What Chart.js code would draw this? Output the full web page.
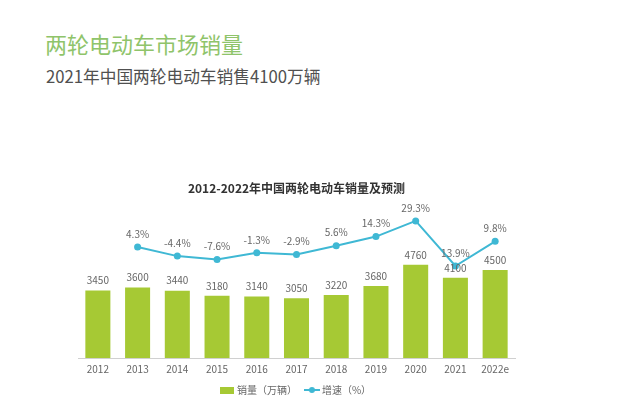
<!DOCTYPE html>
<html>
<head>
<meta charset="utf-8">
<script src="https://cdn.jsdelivr.net/npm/chart.js@4/dist/chart.umd.min.js"></script>
<style>
  body { margin: 0; background: #fff; }
  #wrap { position: relative; width: 640px; height: 412px; font-family: "Noto Sans CJK SC", "Noto Sans", sans-serif; }
  #title { position: absolute; left: 45px; top: 28px; font-size: 22px; color: #8fc46a; line-height: 30px; white-space: nowrap; }
  #subtitle { position: absolute; left: 46px; top: 64px; font-size: 16.7px; color: #505050; line-height: 24px; white-space: nowrap; }
  canvas { position: absolute; left: 0; top: 0; }
</style>
</head>
<body>
<div id="wrap">
  <div id="title">两轮电动车市场销量</div>
  <div id="subtitle">2021年中国两轮电动车销售4100万辆</div>
  <canvas id="chart1" width="640" height="412"></canvas>
</div>
<script>
const years = ['2012', '2013', '2014', '2015', '2016', '2017', '2018', '2019', '2020', '2021', '2022e'];
const sales = [3450, 3600, 3440, 3180, 3140, 3050, 3220, 3680, 4760, 4100, 4500];
const growth = [null, 4.3, -4.4, -7.6, -1.3, -2.9, 5.6, 14.3, 29.3, -13.9, 9.8];
const growthLabels = ['', '4.3%', '-4.4%', '-7.6%', '-1.3%', '-2.9%', '5.6%', '14.3%', '29.3%', '13.9%', '9.8%'];

const barColor = '#a6c934';
const lineColor = '#3fb8d4';
const fontFamily = '"Noto Sans CJK SC", "Noto Sans", sans-serif';

// petites icônes de légende
function swatchBar() {
    const c = document.createElement('canvas');
    c.width = 14; c.height = 7;
    const g = c.getContext('2d');
    g.fillStyle = barColor;
    g.fillRect(0, 0, 14, 7);
    return c;
}
function swatchLine() {
    const c = document.createElement('canvas');
    c.width = 16; c.height = 8;
    const g = c.getContext('2d');
    g.strokeStyle = lineColor;
    g.lineWidth = 2;
    g.beginPath(); g.moveTo(0, 4); g.lineTo(16, 4); g.stroke();
    g.fillStyle = lineColor;
    g.beginPath(); g.arc(8, 4, 3, 0, Math.PI * 2); g.fill();
    return c;
}

// étiquettes de valeurs
const valueLabels = {
    id: 'valueLabels',
    afterDatasetsDraw(chart) {
        const ctx = chart.ctx;
        ctx.save();
        ctx.font = '10px ' + fontFamily;
        ctx.fillStyle = '#666';
        ctx.textAlign = 'center';
        ctx.textBaseline = 'middle';
        chart.getDatasetMeta(0).data.forEach((el, i) => {
            ctx.fillText(String(sales[i]), el.x, el.y - 10);
        });
        chart.getDatasetMeta(1).data.forEach((el, i) => {
            if (growth[i] === null) return;
            ctx.fillText(growthLabels[i], el.x, el.y - 13);
        });
        ctx.restore();
    }
};

const ctx1 = document.getElementById('chart1').getContext('2d');
new Chart(ctx1, {
    type: 'bar',
    data: {
        labels: years,
        datasets: [
            {
                type: 'bar',
                label: '销量（万辆）',
                data: sales,
                backgroundColor: barColor,
                categoryPercentage: 0.63,
                barPercentage: 1,
                yAxisID: 'y',
                order: 2
            },
            {
                type: 'line',
                label: '增速（%）',
                data: growth,
                borderColor: lineColor,
                backgroundColor: lineColor,
                borderWidth: 2,
                pointRadius: 3.5,
                pointBackgroundColor: lineColor,
                pointBorderWidth: 0,
                spanGaps: false,
                yAxisID: 'y1',
                order: 1
            }
        ]
    },
    options: {
        responsive: false,
        animation: false,
        layout: { padding: { top: 181, left: 78, right: 125, bottom: 7 } },
        scales: {
            x: {
                grid: { display: false, drawTicks: false },
                border: { color: '#d0d0d0', width: 1 },
                ticks: { color: '#666', font: { size: 10, family: fontFamily }, padding: 5 },
                afterFit(scale) { scale.height = 17; }
            },
            y: { display: false, min: 0, max: 8000 },
            y1: { display: false, min: -102, max: 48 }
        },
        plugins: {
            title: {
                display: true,
                text: '2012-2022年中国两轮电动车销量及预测',
                color: '#333',
                font: { size: 12, weight: 'bold', family: fontFamily },
                padding: { top: 0, bottom: 6 }
            },
            legend: {
                position: 'bottom',
                fullSize: false,
                labels: {
                    usePointStyle: true,
                    color: '#666',
                    font: { size: 10, family: fontFamily },
                    padding: 10,
                    generateLabels(chart) {
                        return [
                            { text: '销量（万辆）', pointStyle: swatchBar(), fillStyle: barColor, strokeStyle: barColor, lineWidth: 0, datasetIndex: 0, fontColor: '#666' },
                            { text: '增速（%）', pointStyle: swatchLine(), fillStyle: lineColor, strokeStyle: lineColor, lineWidth: 0, datasetIndex: 1, fontColor: '#666' }
                        ];
                    }
                }
            },
            tooltip: { enabled: false }
        }
    },
    plugins: [valueLabels]
});
</script>
</body>
</html>
